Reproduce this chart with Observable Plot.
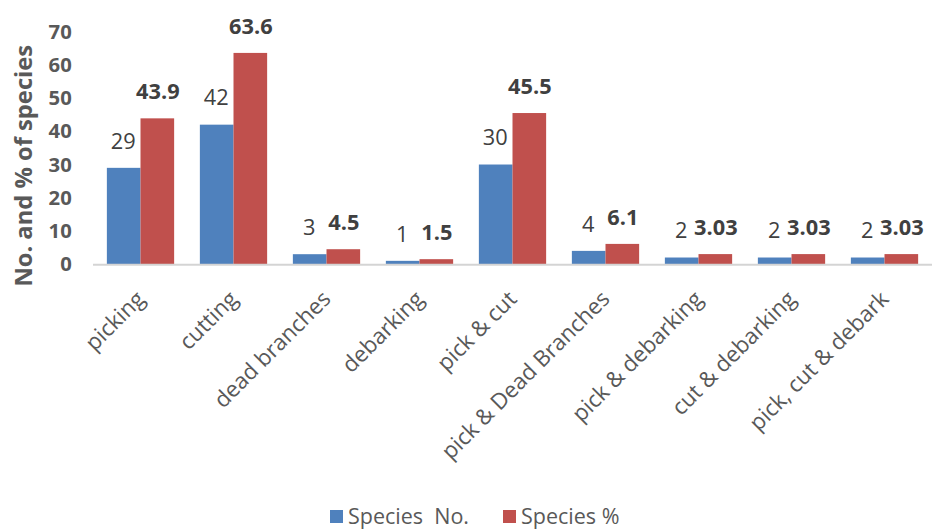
<!DOCTYPE html>
<html>
<head>
<meta charset="utf-8">
<script src="https://cdn.jsdelivr.net/npm/d3@7"></script>
<script src="https://cdn.jsdelivr.net/npm/@observablehq/plot@0.6"></script>
<style>
  html, body { margin: 0; padding: 0; background: #fff; }
  body { width: 932px; height: 531px; overflow: hidden; font-family: "Open Sans", sans-serif; }
  #chart { width: 932px; height: 492px; overflow: hidden; }
  #legend { display: flex; align-items: center; margin-left: 330px; margin-top: 13px; font-size: 21.5px; line-height: 22px; height: 22px; color: #595959; }
  #legend .item { display: flex; align-items: center; }
  #legend .sw { width: 13px; height: 13px; display: inline-block; margin-right: 5px; }
</style>
</head>
<body>
<div id="chart"></div>
<div id="legend"></div>
<script>
const categories = ["picking", "cutting", "dead branches", "debarking", "pick & cut", "pick & Dead Branches", "pick & debarking", "cut & debarking", "pick, cut & debark"];
const speciesNo = [29, 42, 3, 1, 30, 4, 2, 2, 2];
const speciesPct = [43.9, 63.6, 4.5, 1.5, 45.5, 6.1, 3.03, 3.03, 3.03];
const noLabels = ["29", "42", "3", "1", "30", "4", "2", "2", "2"];
const pctLabels = ["43.9", "63.6", "4.5", "1.5", "45.5", "6.1", "3.03", "3.03", "3.03"];
const seriesNames = ["Species  No.", "Species %"];
const seriesColors = ["#4F81BD", "#C0504D"];
const yTicks = [0, 10, 20, 30, 40, 50, 60, 70];
const yTitle = "No. and % of species";

const rowsNo = categories.map((c, i) => ({cat: c, v: speciesNo[i], label: noLabels[i]}));
const rowsPct = categories.map((c, i) => ({cat: c, v: speciesPct[i], label: pctLabels[i]}));

const plot = Plot.plot({
  width: 942,
  height: 492,
  marginLeft: 94,
  marginRight: 0,
  marginTop: 32,
  marginBottom: 225,
  style: {fontFamily: "'Open Sans', sans-serif", background: "#fff"},
  x: {domain: categories, padding: 0, label: null},
  y: {domain: [0, 70], label: null},
  marks: [
    Plot.axisY({ticks: yTicks, tickSize: 0, tickPadding: 22, fontSize: 20.5, fontWeight: "bold", fill: "#595959", label: null}),
    Plot.axisX({tickSize: 0, tickRotate: -45, tickPadding: 31, fontSize: 22.5, fill: "#595959", label: null}),
    Plot.barY(rowsNo, {x: "cat", y: "v", fill: seriesColors[0], insetLeft: 13, insetRight: 47}),
    Plot.barY(rowsPct, {x: "cat", y: "v", fill: seriesColors[1], insetLeft: 47, insetRight: 13}),
    Plot.ruleY([0], {stroke: "#D4D4D4", strokeWidth: 2}),
    Plot.text(rowsNo, {x: "cat", y: "v", text: "label", dx: -18, dy: -27, fontSize: 22, fill: "#404040"}),
    Plot.text(rowsPct, {x: "cat", y: "v", text: "label", dx: 17, dy: -27, fontSize: 22, fontWeight: "bold", fill: "#404040"})
  ]
});

// vertical axis title
const yr = plot.scale("y").range;
const yMid = (yr[0] + yr[1]) / 2;
d3.select(plot).append("text")
  .attr("transform", `translate(24,${yMid + 18}) rotate(-90)`)
  .attr("text-anchor", "middle")
  .attr("dy", "0.35em")
  .attr("font-family", "'Open Sans', sans-serif")
  .attr("font-size", 24)
  .attr("font-weight", "bold")
  .attr("fill", "#595959")
  .text(yTitle);

document.getElementById("chart").appendChild(plot);

const legend = document.getElementById("legend");
seriesNames.forEach((n, i) => {
  const item = document.createElement("div");
  item.className = "item";
  item.style.marginRight = i === 0 ? "34px" : "0";
  const sw = document.createElement("span");
  sw.className = "sw";
  sw.style.background = seriesColors[i];
  const t = document.createElement("span");
  t.textContent = n;
  t.style.whiteSpace = "pre";
  item.appendChild(sw);
  item.appendChild(t);
  legend.appendChild(item);
});
</script>
</body>
</html>
